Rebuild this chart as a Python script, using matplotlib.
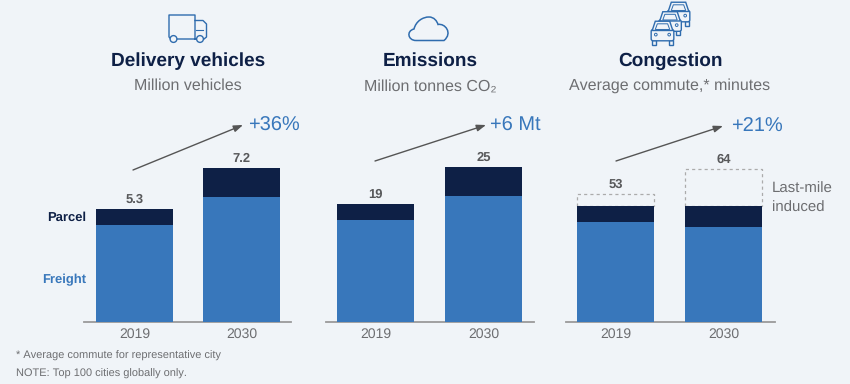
"""Delivery vehicles, emissions and congestion, 2019 vs 2030."""

import matplotlib

matplotlib.use("Agg")
import matplotlib.pyplot as plt
from matplotlib.patches import Circle, FancyBboxPatch, PathPatch, Polygon, Rectangle
from matplotlib.path import Path

W, H = 850, 384
BG = "#f0f4f8"
NAVY = "#0e2046"
BLUE = "#3877bb"
GREY = "#58595b"
ICON = "#2f6cae"
AXIS = "#9a9a9a"

years = ["2019", "2030"]

vehicles_freight = [4.54, 5.85]
vehicles_parcel = [0.76, 1.35]
vehicles_totals = ["5.3", "7.2"]

emissions_freight = [16.5, 20.3]
emissions_parcel = [2.5, 4.7]
emissions_totals = ["19", "25"]

congestion_freight = [41.7, 39.6]
congestion_parcel = [6.6, 8.9]
congestion_induced = [5.0, 15.4]
congestion_totals = ["53", "64"]

plt.rcParams["font.family"] = ["Liberation Sans", "DejaVu Sans"]
plt.rcParams["text.hinting"] = "no_hinting"
plt.rcParams["text.hinting_factor"] = 1

fig = plt.figure(figsize=(W / 100, H / 100), dpi=100, facecolor=BG)

# overlay in pixel coordinates for icons, headers and footnotes
ov = fig.add_axes([0, 0, 1, 1], zorder=5)
ov.set_xlim(0, W)
ov.set_ylim(H, 0)
ov.axis("off")
ov.patch.set_alpha(0)

BASE_Y = 322
TOP_Y = 110


def panel(left, right, center0, center1, px_per_unit, freight, parcel, totals, induced=None):
    """Stacked bars on their own axes, placed so the baseline sits at BASE_Y."""
    ax = fig.add_axes([left / W, 1 - BASE_Y / H, (right - left) / W, (BASE_Y - TOP_Y) / H])
    ax.patch.set_alpha(0)
    step = center1 - center0
    ax.set_xlim((left - center0) / step, (right - center0) / step)
    ax.set_ylim(0, (BASE_Y - TOP_Y) / px_per_unit)
    bar_w = 77 / step
    xs = [0, 1]
    ax.bar(xs, freight, width=bar_w, color=BLUE, zorder=3)
    ax.bar(xs, parcel, width=bar_w, bottom=freight, color=NAVY, zorder=3)
    tops = [f + p for f, p in zip(freight, parcel)]
    if induced is not None:
        ax.bar(xs, induced, width=bar_w, bottom=tops, facecolor="none", edgecolor="#ababab",
               linewidth=0.9, linestyle=(0, (2.5, 2.5)), zorder=2)
        tops = [t + i for t, i in zip(tops, induced)]
    for x, top, label in zip(xs, tops, totals):
        ax.annotate(label, (x, top), xytext=(0, 2.5), textcoords="offset points", ha="center",
                    va="bottom", fontsize=9.5, fontweight="bold", color=GREY)
    ax.set_xticks(xs, years)
    ax.tick_params(axis="x", length=0, pad=4, labelsize=10, labelcolor="#6d6e71")
    ax.set_yticks([])
    for side in ["top", "left", "right"]:
        ax.spines[side].set_visible(False)
    ax.spines["bottom"].set_color(AXIS)
    ax.spines["bottom"].set_linewidth(1.3)
    return ax


panel(84, 291, 134.5, 241.5, 21.35, vehicles_freight, vehicles_parcel, vehicles_totals)
panel(326, 534, 375.5, 483.5, 6.2, emissions_freight, emissions_parcel, emissions_totals)
panel(566, 775, 615.5, 723.5, 2.4, congestion_freight, congestion_parcel, congestion_totals,
      induced=congestion_induced)


def header(x, title, sub):
    ov.text(x, 61, title, ha="center", va="center", fontsize=13.7, fontweight="bold", color=NAVY)
    ov.text(x, 86, sub, ha="center", va="center", fontsize=11.4, color="#6d6e71")


header(188, "Delivery vehicles", "Million vehicles")
header(430, "Emissions", "Million tonnes CO₂")
header(670, "Congestion", "Average commute,* minutes")


def trend(x0, y0, x1, y1, label, tx):
    ov.annotate("", xy=(x1, y1), xytext=(x0, y0),
                arrowprops=dict(arrowstyle="-|>,head_length=0.55,head_width=0.2", color="#555555",
                                lw=1.0, shrinkA=0, shrinkB=0))
    ov.text(tx, y1 + 0.5, label, ha="left", va="center", fontsize=14.5, color=BLUE)


trend(133, 170, 243, 125, "+36%", 248)
trend(375, 161, 486, 125, "+6 Mt", 490)
trend(616, 161, 723, 126, "+21%", 731)

ov.text(86, 218, "Parcel", ha="right", va="center", fontsize=9.5, fontweight="bold", color=NAVY)
ov.text(86, 280, "Freight", ha="right", va="center", fontsize=9.5, fontweight="bold", color=BLUE)
ov.text(772, 189, "Last-mile", ha="left", va="center", fontsize=10.8, color="#6d6e71")
ov.text(772, 208, "induced", ha="left", va="center", fontsize=10.8, color="#6d6e71")
ov.text(16, 356, "* Average commute for representative city", ha="left", va="center",
        fontsize=7.9, color="#6d6e71")
ov.text(16, 374, "NOTE: Top 100 cities globally only.", ha="left", va="center",
        fontsize=7.9, color="#6d6e71")


def truck():
    verts = [(195, 39), (171, 39), (169, 37), (169, 15), (195, 15), (195, 39)]
    ov.plot([v[0] for v in verts], [v[1] for v in verts], color=ICON, lw=1.0)
    ov.plot([195, 203, 206.5, 206.5, 204], [20.5, 20.5, 24, 37, 39], color=ICON, lw=1.0)
    ov.plot([196, 203], [30, 30], color=ICON, lw=0.8)
    for cx in (173.5, 200):
        wheel = Circle((cx, 39), 3.4, facecolor=BG, edgecolor=ICON, linewidth=1.0, zorder=3)
        ov.add_patch(wheel)


def cloud():
    codes = [Path.MOVETO] + [Path.CURVE4] * 12 + [Path.LINETO]
    verts = [(416, 40.5), (408, 40.5), (406, 31), (414, 29), (416, 21), (423, 17), (429, 17),
             (434, 17), (437, 21), (438, 24.5), (445, 23), (453, 33), (444, 40.5),
             (416, 40.5)]
    ov.add_patch(PathPatch(Path(verts, codes), fill=False, edgecolor=ICON, linewidth=1.1))


def car(cx, cy, s=1.0):
    back = dict(facecolor=BG, edgecolor=ICON, linewidth=1.0, zorder=3)
    ov.add_patch(Rectangle((cx - 10 * s, cy + 9 * s), 4 * s, 5 * s, **back))
    ov.add_patch(Rectangle((cx + 6 * s, cy + 9 * s), 4 * s, 5 * s, **back))
    ov.add_patch(FancyBboxPatch((cx - 11 * s, cy - 1 * s), 22 * s, 11 * s,
                                boxstyle="round,pad=0,rounding_size=2", **back))
    ov.add_patch(Polygon([(cx - 10 * s, cy), (cx - 7 * s, cy - 9 * s), (cx + 7 * s, cy - 9 * s),
                          (cx + 10 * s, cy)], closed=True, **back))
    ov.add_patch(Polygon([(cx - 7 * s, cy - 1 * s), (cx - 5 * s, cy - 6.5 * s),
                          (cx + 5 * s, cy - 6.5 * s), (cx + 7 * s, cy - 1 * s)],
                         closed=True, facecolor=BG, edgecolor=ICON, linewidth=0.7, zorder=3))
    for dx in (-6.5, 6.5):
        ov.add_patch(Circle((cx + dx * s, cy + 4 * s), 1.3 * s, facecolor=BG, edgecolor=ICON,
                            linewidth=0.7, zorder=3))


truck()
cloud()
car(678.5, 11.5, 1.03)
car(670, 21, 1.03)
car(662.5, 30.5, 1.03)

fig.savefig("out.png", dpi=100, facecolor=BG)
